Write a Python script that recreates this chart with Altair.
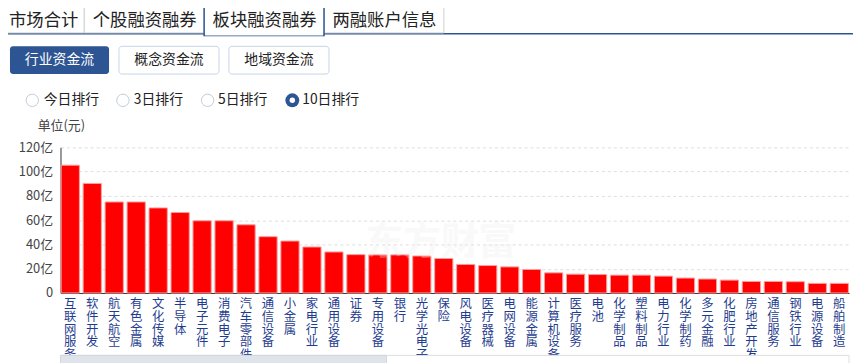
import altair as alt
import pandas as pd

# ---- data ----
industries = ["互联网服务", "软件开发", "航天航空", "有色金属", "文化传媒", "半导体", "电子元件", "消费电子",
              "汽车零部件", "通信设备", "小金属", "家电行业", "通用设备", "证券", "专用设备", "银行",
              "光学光电子", "保险", "风电设备", "医疗器械", "电网设备", "能源金属", "计算机设备", "医疗服务",
              "电池", "化学制品", "塑料制品", "电力行业", "化学制药", "多元金融", "化肥行业", "房地产开发",
              "通信服务", "钢铁行业", "电源设备", "船舶制造"]
values = [105.3, 90.3, 75.0, 75.0, 70.1, 66.3, 59.5, 59.5,
          56.2, 46.4, 42.8, 37.9, 33.8, 31.6, 31.4, 31.4,
          30.5, 28.4, 23.5, 22.6, 21.5, 19.4, 16.6, 15.5,
          15.2, 14.7, 14.7, 13.9, 12.3, 11.5, 10.6, 9.5,
          9.5, 9.3, 7.9, 7.9]
y_ticks = [0, 20, 40, 60, 80, 100, 120]
tabs = ["市场合计", "个股融资融券", "板块融资融券", "两融账户信息"]
buttons = ["行业资金流", "概念资金流", "地域资金流"]
radios = ["今日排行", "3日排行", "5日排行", "10日排行"]

FONT = "Noto Sans CJK SC"
NAVY = "#2d5593"
OX, OY = 61, 147  # page position of plot origin

df = pd.DataFrame({"industry": industries, "value": values})
one = alt.Data(values=[{"k": 1}])


def rect(x1, x2, y1, y2, fill, stroke=None, sw=1, r=0):
    kw = dict(fill=fill, cornerRadius=r)
    if stroke:
        kw.update(stroke=stroke, strokeWidth=sw)
    else:
        kw.update(strokeWidth=0)
    return alt.Chart(one).mark_rect(**kw).encode(
        x=alt.value(x1 - OX), x2=alt.value(x2 - OX),
        y=alt.value(y1 - OY), y2=alt.value(y2 - OY))


def text(t, x, y, size, color="#222", align="center", weight="normal", opacity=1):
    return alt.Chart(one).mark_text(text=t, font=FONT, fontSize=size, color=color, align=align,
                                    baseline="middle", fontWeight=weight, opacity=opacity).encode(
        x=alt.value(x - OX), y=alt.value(y - OY))


def dot(x, y, d, fill=None, stroke=None, sw=1):
    kw = dict(shape="circle", size=d * d, opacity=1)
    if fill:
        kw.update(filled=True, fill=fill, strokeWidth=0)
    else:
        kw.update(filled=False, stroke=stroke, strokeWidth=sw, fill="white", fillOpacity=1)
    return alt.Chart(one).mark_point(**kw).encode(x=alt.value(x - OX), y=alt.value(y - OY))


layers = []

# ---- tabs ----
layers.append(rect(-10, 880, 31.5, 33, NAVY))
layers.append(rect(0.5, 85, 1, 31.5, "white", "#cfcfcf"))
layers.append(rect(85, 206, 1, 31.5, "white", "#cfcfcf"))
layers.append(rect(327, 448, 1, 31.5, "white", "#cfcfcf"))
layers.append(rect(206, 327, 2.5, 34, "white", NAVY, 1.5))
layers.append(rect(207, 326, 31, 34, "white"))
for t, cx in zip(tabs, [44, 146, 267, 388]):
    layers.append(text(t, cx, 19, 17.5, "#222"))

# ---- buttons ----
for i, (b, (x1, x2)) in enumerate(zip(buttons, [(10, 110), (120, 221), (231, 332)])):
    if i == 0:
        layers.append(rect(x1, x2, 45, 73, NAVY, r=3))
        layers.append(text(b, (x1 + x2) / 2, 59, 14, "white"))
    else:
        layers.append(rect(x1, x2, 45, 73, "white", "#c6d4e8", 1, 3))
        layers.append(text(b, (x1 + x2) / 2, 59, 14, "#222"))

# ---- radios ----
for i, (r, cx, tx) in enumerate(zip(radios, [32.5, 124, 209.5, 295], [44, 135, 220, 305])):
    if i == 3:
        layers.append(dot(cx, 99.5, 14, fill=NAVY))
        layers.append(dot(cx, 99.5, 5.5, fill="white"))
    else:
        layers.append(dot(cx, 99.5, 12.5, stroke="#c3cad6"))
    layers.append(text(r, tx, 99.5, 14, "#222", align="left"))

layers.append(text("单位(元)", 38, 125, 13, "#444", align="left"))

# ---- bars ----
bars = alt.Chart(df).mark_bar(color="#ff0000", stroke="#ff9e9e", strokeWidth=1).encode(
    x=alt.X("industry:N", sort=industries,
            scale=alt.Scale(paddingInner=0.17, paddingOuter=0.03),
            axis=alt.Axis(title=None, labelAngle=0, labelExpr="split(datum.label, '')",
                          labelColor="#1f3d8f", labelFont=FONT, labelFontSize=12.5,
                          labelLineHeight=12.8, labelBaseline="top", labelPadding=5,
                          ticks=False, domainColor="#333", labelOverlap=False, grid=False)),
    y=alt.Y("value:Q", scale=alt.Scale(domain=[0, 120], nice=False),
            axis=alt.Axis(title=None, values=y_ticks,
                          labelExpr="datum.value == 0 ? '0' : datum.value + '亿'",
                          labelColor="#444", labelFont=FONT, labelFontSize=13, labelPadding=8,
                          ticks=False, domainColor="#333", grid=True, gridDash=[3, 3],
                          gridColor="#dddddd")),
)
layers.append(bars)

# watermark
layers.append(text("东方财富", 445, 244, 38, "#eeeeee", weight="bold", opacity=0.3))

# scrollbar
layers.append(rect(61, 857, 357, 366, "white", "#dddddd"))
layers.append(rect(61, 390, 357, 366, "#dfe3ea", "#d0d4dc"))

chart = alt.layer(*layers).properties(
    width=796, height=147,
    autosize=alt.AutoSizeParams(type="none"),
    padding={"left": 53, "top": 139, "right": 4, "bottom": 69},
).configure_view(stroke=None).configure_axis(labelFont=FONT)

chart.save("out.html", embed_options={"renderer": "svg", "actions": False})
